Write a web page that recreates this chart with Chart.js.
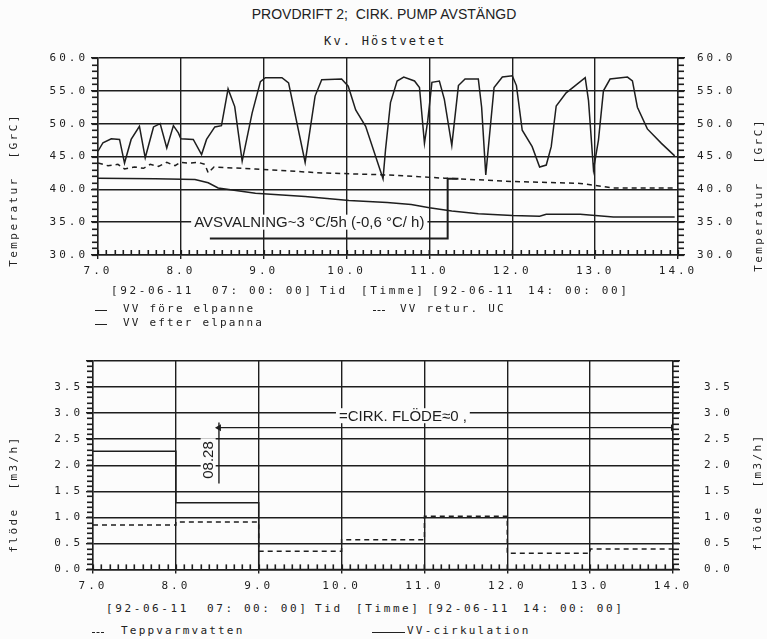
<!DOCTYPE html>
<html>
<head>
<meta charset="utf-8">
<script src="https://cdn.jsdelivr.net/npm/chart.js@4.4.1/dist/chart.umd.min.js"></script>
<style>
  body { margin: 0; width: 767px; height: 639px; position: relative; overflow: hidden;
         background: #fcfcfc; color: #222; font-family: "DejaVu Sans Mono", monospace; }
  canvas { position: absolute; left: 0; }
  .t { position: absolute; white-space: pre; font-size: 11px; letter-spacing: 2.6px;
       line-height: 1; transform: translateY(-50%); }
  .v { position: absolute; white-space: pre; font-size: 11px; letter-spacing: 2.4px;
       line-height: 1; transform: translate(-50%, -50%) rotate(-90deg); }
  .sw { position: absolute; width: 12px; height: 0; border-top: 1.5px solid #222; }
  .sw.d { border-top-style: dashed; }
</style>
</head>
<body>
<div class="t" style="left:384px;top:14px;transform:translate(-50%,-50%);font-family:'Liberation Sans',Arial,sans-serif;font-size:14px;letter-spacing:0">PROVDRIFT 2;  CIRK. PUMP AVSTÄNGD</div>
<div class="t" style="left:324px;top:41px;font-size:12px;letter-spacing:2.2px">Kv. Höstvetet</div>

<canvas id="topChart" width="767" height="285" style="top:0"></canvas>
<canvas id="flowChart" width="767" height="300" style="top:300px"></canvas>

<div class="v" style="left:13px;top:190px">Temperatur  [GrC]</div>
<div class="v" style="left:758px;top:195px">Temperatur  [GrC]</div>
<div class="v" style="left:13px;top:494px">flöde  [m3/h]</div>
<div class="v" style="left:757px;top:492px">flöde  [m3/h]</div>

<div class="t" style="left:111px;top:290px">[92-06-11</div>
<div class="t" style="left:212px;top:290px">07: 00: 00]</div>
<div class="t" style="left:320px;top:290px">Tid</div>
<div class="t" style="left:361px;top:290px">[Timme]</div>
<div class="t" style="left:432px;top:290px">[92-06-11</div>
<div class="t" style="left:528px;top:290px">14: 00: 00]</div>

<div class="sw" style="left:95px;top:310px"></div>
<div class="t" style="left:123px;top:308px;letter-spacing:2.2px">VV före elpanne</div>
<div class="sw" style="left:95px;top:324px"></div>
<div class="t" style="left:123px;top:322px;letter-spacing:2.2px">VV efter elpanna</div>
<div class="sw d" style="left:373px;top:310px"></div>
<div class="t" style="left:400px;top:308px;letter-spacing:2.2px">VV retur. UC</div>

<div class="t" style="left:106px;top:608px">[92-06-11</div>
<div class="t" style="left:207px;top:608px">07: 00: 00]</div>
<div class="t" style="left:315px;top:608px">Tid</div>
<div class="t" style="left:356px;top:608px">[Timme]</div>
<div class="t" style="left:427px;top:608px">[92-06-11</div>
<div class="t" style="left:523px;top:608px">14: 00: 00]</div>

<div class="sw d" style="left:92px;top:632px"></div>
<div class="t" style="left:121px;top:630px;letter-spacing:2.2px">Teppvarmvatten</div>
<div class="sw" style="left:372px;top:632px;width:33px"></div>
<div class="t" style="left:407px;top:630px;letter-spacing:2.2px">VV-cirkulation</div>

<script>
// --- data ---
const hourTicks = [7, 8, 9, 10, 11, 12, 13, 14];
const tempTicks = [30, 35, 40, 45, 50, 55, 60];
const flowTicks = [0, 0.5, 1, 1.5, 2, 2.5, 3, 3.5, 4];

// VV efter elpanna (fluctuating)
const efterHours = [7.0, 7.06, 7.16, 7.26, 7.32, 7.40, 7.50, 7.57, 7.67, 7.75, 7.83, 7.91, 7.97, 8.00,
  8.15, 8.25, 8.31, 8.41, 8.49, 8.57, 8.65, 8.74, 8.86, 8.96, 9.02, 9.22, 9.30, 9.50, 9.62, 9.70,
  9.94, 10.02, 10.11, 10.23, 10.44, 10.47, 10.53, 10.61, 10.69, 10.82, 10.88, 10.94, 10.98, 11.03,
  11.12, 11.18, 11.27, 11.35, 11.43, 11.59, 11.63, 11.68, 11.78, 11.88, 12.00, 12.05, 12.12, 12.24,
  12.33, 12.41, 12.47, 12.53, 12.65, 12.73, 12.88, 12.92, 12.98, 13.04, 13.10, 13.18, 13.39, 13.45,
  13.51, 13.63, 13.80, 13.96];
const efterTemp = [45.8, 47.1, 47.7, 47.6, 44.0, 47.6, 49.6, 44.8, 49.5, 50.0, 46.3, 49.7, 48.6, 47.7,
  47.6, 45.3, 47.6, 49.5, 49.7, 55.3, 52.6, 44.3, 51.6, 56.4, 57.0, 57.0, 56.2, 44.1, 54.2, 56.7,
  56.8, 55.7, 52.1, 49.6, 41.6, 46.0, 53.2, 56.5, 57.1, 56.5, 55.5, 47.0, 50.5, 56.3,
  56.5, 53.7, 46.7, 55.8, 56.8, 56.8, 52.5, 42.2, 55.5, 57.1, 57.3, 55.8, 49.0, 46.5,
  43.4, 43.7, 46.5, 52.7, 54.7, 55.5, 57.0, 53.5, 43.0, 47.5, 55.0, 56.8, 57.1, 56.5,
  52.5, 49.2, 47.0, 45.1];

// VV före elpanne (slowly cooling)
const foreHours = [7.0, 7.69, 8.17, 8.33, 8.45, 8.90, 9.50, 10.03, 10.49, 10.78, 11.0, 11.27, 11.59,
  12.0, 12.33, 12.41, 12.82, 13.22, 13.96];
const foreTemp = [41.7, 41.6, 41.5, 41.0, 40.2, 39.4, 38.9, 38.3, 38.0, 37.7, 37.2, 36.7, 36.3,
  36.0, 35.9, 36.2, 36.2, 35.8, 35.8];

// VV retur. UC (dashed)
const returHours = [7.0, 7.12, 7.24, 7.32, 7.44, 7.55, 7.63, 7.73, 7.83, 7.93, 7.99, 8.09, 8.21,
  8.29, 8.33, 8.40, 8.90, 9.70, 10.47, 11.18, 12.0, 12.82, 13.22, 13.96];
const returTemp = [44.0, 43.6, 43.8, 43.1, 43.4, 43.2, 43.8, 43.5, 44.1, 43.6, 44.1, 44.0, 44.1,
  43.8, 42.5, 43.4, 43.1, 42.5, 42.2, 41.7, 41.2, 40.9, 40.2, 40.2];

// cooling bracket drawn on the temperature plot
const bracketHours = [8.35, 11.22, 11.22, 11.35];
const bracketTemp = [32.5, 32.5, 41.6, 41.6];

// hourly flows, value at hour h holds until h+1
const flowHours = [7, 8, 9, 10, 11, 12, 13, 14];
const tappFlow = [0.85, 0.91, 0.35, 0.57, 1.02, 0.31, 0.39, 0.39];
const cirkFlow = [2.27, 1.28, 0, 0, 0, 0, 0, 0];

// "CIRK. FLÖDE ~ 0" arrow and the 08.28 marker
const arrowHours = [8.52, 14.0];
const arrowFlow = [2.72, 2.72];
const markHours = [8.52, 8.52];
const markFlow = [2.82, 1.65];

const ink = '#1e1e1e';
const pts = (xs, ys) => xs.map((x, i) => ({ x, y: ys[i] }));

// minor ticks, plotter font spacing and text notes
const extras = {
  id: 'extras',
  beforeDraw(chart) { chart.ctx.letterSpacing = '3px'; },
  afterDraw(chart, args, opts) {
    const ctx = chart.ctx, a = chart.chartArea;
    const x = chart.scales.x, y = chart.scales.y;
    const xStep = opts.xStep || 0.1, yStep = opts.yStep || 1;
    ctx.save();
    ctx.letterSpacing = '0px';
    ctx.fillStyle = ink;
    const nx = Math.round((x.max - x.min) / xStep);
    for (let i = 0; i <= nx; i++) {
      const px = Math.round(x.getPixelForValue(x.min + i * xStep));
      ctx.fillRect(px - 0.5, a.bottom - 5, 1.6, 5);
    }
    const ny = Math.round((y.max - y.min) / yStep);
    for (let i = 0; i <= ny; i++) {
      const py = Math.round(y.getPixelForValue(y.min + i * yStep));
      ctx.fillRect(a.left - 6, py - 0.5, 6, 1.6);
      ctx.fillRect(a.right, py - 0.5, 6, 1.6);
    }

    ctx.font = opts.noteFont;
    ctx.textAlign = 'center';
    ctx.textBaseline = 'middle';
    for (const n of opts.notes) {
      const px = x.getPixelForValue(n.x), py = y.getPixelForValue(n.y);
      const w = ctx.measureText(n.text).width + 6, h = 15;
      ctx.save();
      ctx.translate(px, py);
      if (n.rotate) ctx.rotate(-Math.PI / 2);
      ctx.fillStyle = '#fcfcfc';
      ctx.fillRect(-w / 2, -h / 2, w, h);
      ctx.fillStyle = ink;
      ctx.fillText(n.text, 0, 1);
      ctx.restore();
    }
    ctx.restore();
  }
};

const tickFont = { family: 'DejaVu Sans Mono', size: 11 };
const gridStyle = { color: ink, lineWidth: 1.4, tickLength: 7, tickColor: ink };

function axes(xTicks, yTicks, yMin, yMax, leftW, rightW, xH, rightPad) {
  const setTicks = list => s => { s.ticks = list.map(v => ({ value: v })); };
  return {
    x: {
      type: 'linear', min: 7, max: 14,
      afterBuildTicks: setTicks(xTicks),
      afterFit: s => { s.height = xH; },
      grid: { ...gridStyle, tickLength: 4 },
      border: { color: ink, width: 1.4 },
      ticks: { font: tickFont, color: ink, padding: 6, maxRotation: 0, callback: v => v.toFixed(1) }
    },
    y: {
      min: yMin, max: yMax,
      afterBuildTicks: setTicks(yTicks),
      afterFit: s => { s.width = leftW; },
      grid: gridStyle,
      border: { color: ink, width: 1.4 },
      ticks: { font: tickFont, color: ink, padding: 3, callback: v => v === 4 ? '' : v.toFixed(1) }
    },
    y2: {
      position: 'right', min: yMin, max: yMax,
      afterBuildTicks: setTicks(yTicks),
      afterFit: s => { s.width = rightW; },
      grid: { ...gridStyle, drawOnChartArea: false },
      border: { color: ink, width: 1.4 },
      ticks: { font: tickFont, color: ink, padding: rightPad, callback: v => v === 4 ? '' : v.toFixed(1) }
    }
  };
}

const line = (data, extra) => ({
  data, borderColor: ink, borderWidth: 1.5, pointRadius: 0, tension: 0, fill: false, ...extra
});

new Chart(document.getElementById('topChart'), {
  type: 'line',
  data: {
    datasets: [
      line(pts(efterHours, efterTemp), { label: 'VV efter elpanna' }),
      line(pts(foreHours, foreTemp), { label: 'VV före elpanne' }),
      line(pts(returHours, returTemp), { label: 'VV retur. UC', borderDash: [5, 4] }),
      line(pts(bracketHours, bracketTemp), { label: 'bracket', borderWidth: 2 })
    ]
  },
  options: {
    responsive: false, animation: false,
    layout: { padding: { top: 58, left: 0, right: 0, bottom: 0 } },
    scales: axes(hourTicks, tempTicks, 30, 60, 98, 89, 30, 12),
    plugins: {
      legend: { display: false }, tooltip: { enabled: false },
      extras: {
        xStep: 0.1, yStep: 1,
        noteFont: '15px "Liberation Sans", Arial, sans-serif',
        notes: [{ text: 'AVSVALNING~3 °C/5h (-0,6 °C/ h)', x: 9.55, y: 35 }]
      }
    }
  },
  plugins: [extras]
});

new Chart(document.getElementById('flowChart'), {
  type: 'line',
  data: {
    datasets: [
      line(pts(flowHours, tappFlow), { label: 'Teppvarmvatten', stepped: 'before', borderDash: [5, 4] }),
      line(pts(flowHours, cirkFlow), { label: 'VV-cirkulation', stepped: 'before' }),
      line(pts(arrowHours, arrowFlow), {
        label: 'arrow', borderWidth: 1.2, pointRadius: 4, pointStyle: 'triangle',
        rotation: [-90, 90], pointBackgroundColor: ink, pointBorderWidth: 0
      }),
      line(pts(markHours, markFlow), { label: 'mark', borderWidth: 1.4 })
    ]
  },
  options: {
    responsive: false, animation: false,
    layout: { padding: { top: 61, left: 0, right: 0, bottom: 0 } },
    scales: axes(hourTicks, flowTicks, 0, 4, 93, 94, 26, 24),
    plugins: {
      legend: { display: false }, tooltip: { enabled: false },
      extras: {
        xStep: 0.1, yStep: 0.1,
        noteFont: '15px "Liberation Sans", Arial, sans-serif',
        notes: [
          { text: '=CIRK. FLÖDE≈0 ,', x: 10.74, y: 2.95 },
          { text: '08.28', x: 8.39, y: 2.1, rotate: true }
        ]
      }
    }
  },
  plugins: [extras]
});
</script>
</body>
</html>
